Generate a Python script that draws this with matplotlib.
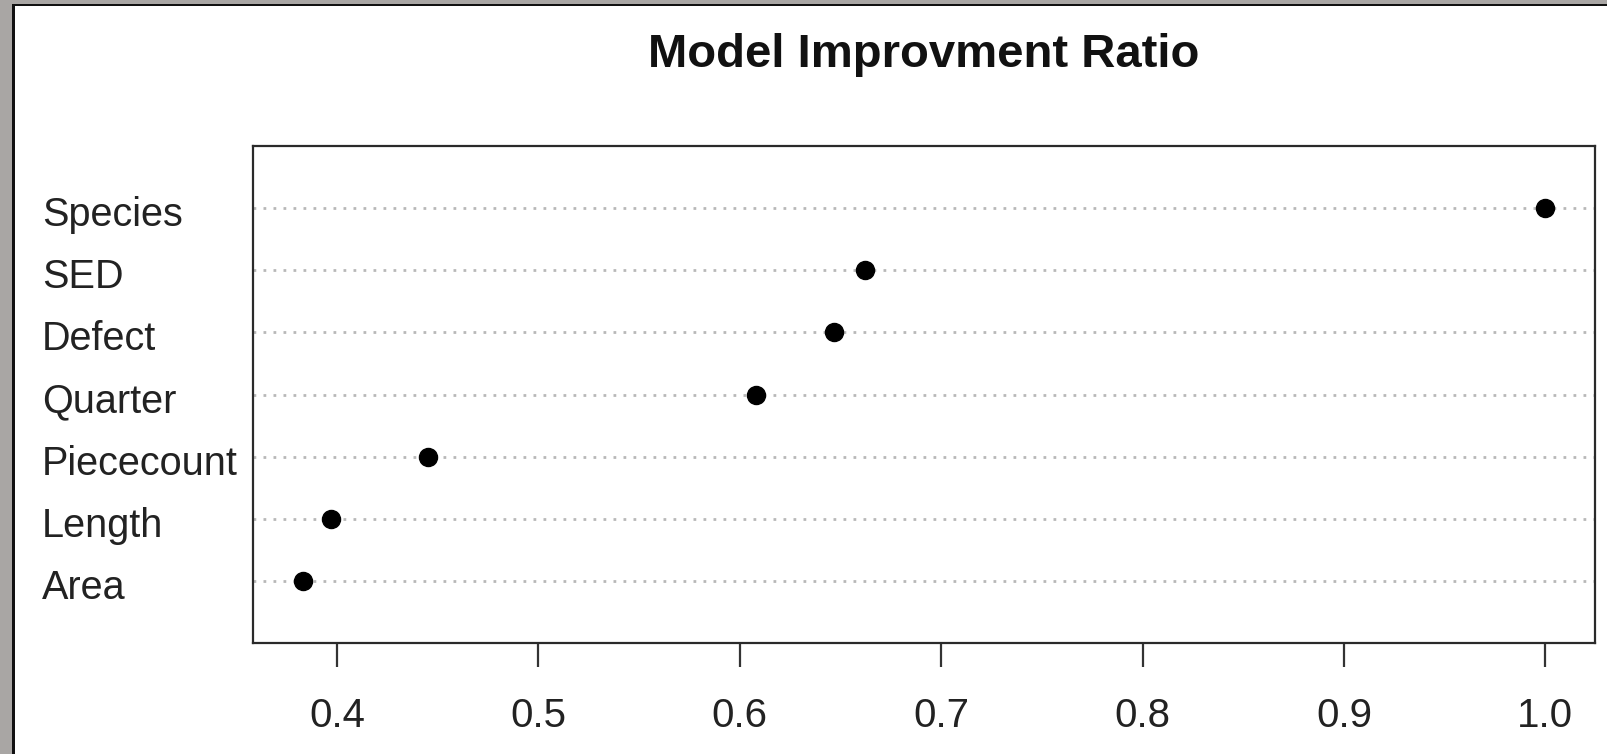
import matplotlib
matplotlib.use("Agg")
import matplotlib.pyplot as plt
from matplotlib.patches import Rectangle
from matplotlib.transforms import ScaledTranslation

categories = ["Area", "Length", "Piececount", "Quarter", "Defect", "SED", "Species"]
values = [0.383, 0.397, 0.445, 0.608, 0.647, 0.662, 1.000]
xticks = [0.4, 0.5, 0.6, 0.7, 0.8, 0.9, 1.0]
xticklabels = ["0.4", "0.5", "0.6", "0.7", "0.8", "0.9", "1.0"]
title = "Model Improvment Ratio"

W, H = 1607, 754
DPI = 100
plt.rcParams['font.family'] = ['Liberation Sans', 'DejaVu Sans']

fig = plt.figure(figsize=(W / DPI, H / DPI), dpi=DPI)
fig.patch.set_facecolor("white")

def px(x0, y0, x1, y1):
    return (x0 / W, 1 - y1 / H, (x1 - x0) / W, (y1 - y0) / H)

# frame border (gray strip + black line)
gray = "#a9a6a4"
for (x0, y0, x1, y1, c) in [(0, 0, 12, H, gray), (0, 0, W, 3.5, gray),
                            (12, 3.5, 14.5, H, "#111111"), (12, 3.5, W, 6, "#111111")]:
    l, b, w, h = px(x0, y0, x1, y1)
    fig.patches.append(Rectangle((l, b), w, h, transform=fig.transFigure,
                                 facecolor=c, edgecolor="none", zorder=10))

ax = fig.add_axes(px(253, 146, 1595, 643))
ypos = list(range(1, len(categories) + 1))
for y in ypos:
    ax.axhline(y, color="#b8b8b8", lw=2, linestyle=(0, (1, 2.6)), zorder=1)
ax.plot(values, ypos, linestyle="none", marker="o", ms=13, color="black", zorder=3)

vmin, vmax = min(values), max(values)
ext = (vmax - vmin) * 0.04
ax.set_xlim(vmin - ext, vmax + ext)
ax.set_ylim(0, len(categories) + 1)

ax.set_xticks(xticks)
ax.set_xticklabels(xticklabels, fontsize=29, color="#222222")
ax.tick_params(axis="x", length=17, width=1.6, color="#333333", pad=22)
ax.set_yticks(ypos)
ax.set_yticklabels(categories, fontsize=28.5, color="#222222")
ax.tick_params(axis="y", length=0, pad=152)
shift = ScaledTranslation(0, -3 / DPI, fig.dpi_scale_trans)
for lab in ax.get_yticklabels():
    lab.set_horizontalalignment("left")
    lab.set_verticalalignment("center_baseline")
    lab.set_transform(lab.get_transform() + shift)

for s in ax.spines.values():
    s.set_linewidth(1.6)
    s.set_color("#2a2a2a")

fig.text(924 / W, 1 - 67 / H, title, ha="center", va="baseline",
         fontsize=34, fontweight="bold", color="#111111")

fig.savefig("out.png", dpi=DPI)
